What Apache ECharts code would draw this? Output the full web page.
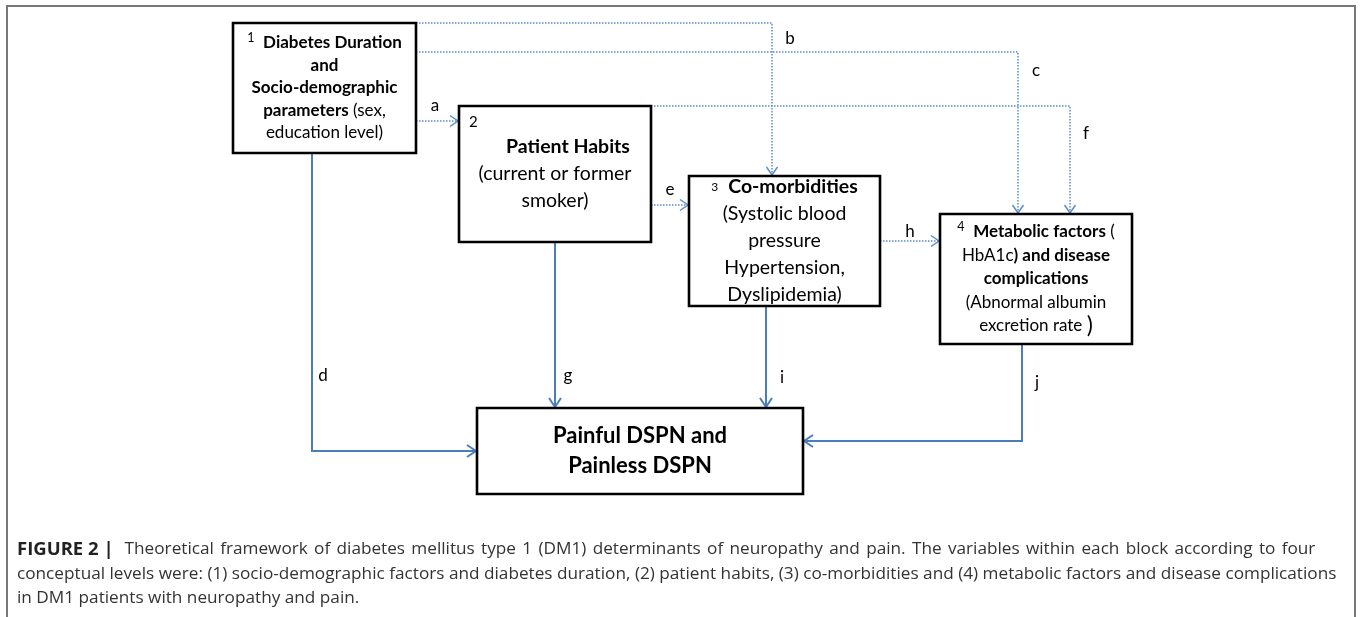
<!DOCTYPE html>
<html>
<head>
<meta charset="utf-8">
<style>
html,body{margin:0;padding:0;background:#fff;}
#chart{width:1360px;height:617px;}
</style>
<script src="https://cdn.jsdelivr.net/npm/echarts@6/dist/echarts.min.js"></script>
</head>
<body>
<div id="chart"></div>
<script>
// ---- diagram content ----
const boxNames = ['Diabetes Duration and Socio-demographic parameters', 'Patient Habits', 'Co-morbidities', 'Metabolic factors and disease complications', 'Painful DSPN and Painless DSPN'];
const boxText = [
  '{s|1}  {b|Diabetes Duration}\n{b|and}\n{b|Socio-demographic}\n{b|parameters} {n|(sex,}\n{n|education level)}',
  '{p|}{b|Patient Habits}\n{n|(current or former}\n{n|smoker)}',
  '{m|3}  {b|Co-morbidities}\n{n|(Systolic blood}\n{n|pressure}\n{n|Hypertension,}\n{n|Dyslipidemia)}',
  '{s|4}  {b|Metabolic factors} {n|(}\n{n|HbA1c}{b|) and disease}\n{b|complications}\n{n|(Abnormal albumin}\n{n|excretion rate} {big|)}',
  '{b|Painful DSPN and}\n{b|Painless DSPN}'
];
const boxCornerNumber = ['', '2', '', '', ''];
// box extents in diagram units [x0, y0, x1, y1]
const boxRects = [
  [233, 23, 416, 153],
  [459, 106, 651, 242],
  [689, 176, 880, 306],
  [940, 214, 1132, 344],
  [477, 408, 803, 494]
];
const boxFont = [17, 19.5, 19.5, 17, 22];
const boxLineHeight = [22.5, 27, 27, 23.5, 30];

// connectors
const linkLetters = ['a', 'b', 'c', 'f', 'e', 'h', 'd', 'g', 'i', 'j'];
const linkKind = ['dotted', 'dotted', 'dotted', 'dotted', 'dotted', 'dotted', 'solid', 'solid', 'solid', 'solid'];
const linkPaths = [
  [[416, 121], [458, 121]],
  [[416, 23], [772, 23], [772, 175]],
  [[416, 52], [1018, 52], [1018, 213]],
  [[651, 106], [1070, 106], [1070, 213]],
  [[651, 205], [688, 205]],
  [[880, 241], [939, 241]],
  [[312, 153], [312, 451], [476, 451]],
  [[555, 242], [555, 407]],
  [[766, 306], [766, 407]],
  [[1022, 344], [1022, 441], [804, 441]]
];
const linkLabelPos = [
  [435, 106], [790, 39], [1036, 71], [1086, 134], [670, 190],
  [910, 232], [323, 376], [568, 376], [782, 378], [1037, 383]
];

const captionLead = 'FIGURE 2 |';
const captionLines = [
  'Theoretical framework of diabetes mellitus type 1 (DM1) determinants of neuropathy and pain. The variables within each block according to four',
  'conceptual levels were: (1) socio-demographic factors and diabetes duration, (2) patient habits, (3) co-morbidities and (4) metabolic factors and disease complications',
  'in DM1 patients with neuropathy and pain.'
];

const BOX_FONT = 'Lato';
const CAP_FONT = 'Open Sans';
const CAP_SIZE = 17.2;
const SOLID = '#4a7ebb';
const DOTTED = '#5b8ccb';

const chart = echarts.init(document.getElementById('chart'), null, {renderer: 'canvas'});

function renderBox(params, api) {
  const i = params.dataIndex;
  const r = boxRects[i];
  const p0 = api.coord([r[0], r[1]]);
  const p1 = api.coord([r[2], r[3]]);
  const fs = boxFont[i];
  const lh = boxLineHeight[i];
  const children = [{
    type: 'rect',
    shape: {x: p0[0], y: p0[1], width: p1[0] - p0[0], height: p1[1] - p0[1]},
    style: {fill: '#fff', stroke: '#000', lineWidth: 2.6}
  }, {
    type: 'text',
    x: (p0[0] + p1[0]) / 2,
    y: (p0[1] + p1[1]) / 2,
    style: {
      text: boxText[i],
      align: 'center',
      verticalAlign: 'middle',
      fill: '#000',
      fontFamily: BOX_FONT,
      fontSize: fs,
      lineHeight: lh,
      rich: {
        b: {fontFamily: BOX_FONT, fontWeight: 'bold', fontSize: fs, lineHeight: lh, fill: '#000'},
        n: {fontFamily: BOX_FONT, fontWeight: 'normal', fontSize: fs, lineHeight: lh, fill: '#000'},
        big: {fontFamily: BOX_FONT, fontWeight: 'normal', fontSize: fs + 6, lineHeight: lh, fill: '#000'},
        s: {fontFamily: BOX_FONT, fontSize: 12.5, verticalAlign: 'top', lineHeight: lh, fill: '#000'},
        m: {fontFamily: BOX_FONT, fontSize: 12, verticalAlign: 'middle', lineHeight: lh, fill: '#000'},
        p: {width: 26}
      }
    }
  }];
  if (boxCornerNumber[i]) {
    children.push({
      type: 'text',
      x: p0[0] + 10,
      y: p0[1] + 16,
      style: {text: boxCornerNumber[i], fontFamily: BOX_FONT, fontSize: 15, fill: '#000', align: 'left', verticalAlign: 'middle'}
    });
  }
  return {type: 'group', children: children};
}

function renderLink(params, api) {
  const i = params.dataIndex;
  const pts = linkPaths[i].map(p => api.coord(p));
  const solid = linkKind[i] === 'solid';
  const color = solid ? SOLID : DOTTED;
  const n = pts.length;
  const end = pts[n - 1], prev = pts[n - 2];
  const dx = end[0] - prev[0], dy = end[1] - prev[1];
  const len = Math.sqrt(dx * dx + dy * dy) || 1;
  const ux = dx / len, uy = dy / len;
  const L = solid ? 9 : 8, W = solid ? 6 : 5.5;
  const a1 = [end[0] - ux * L - uy * W, end[1] - uy * L + ux * W];
  const a2 = [end[0] - ux * L + uy * W, end[1] - uy * L - ux * W];
  const lp = api.coord(linkLabelPos[i]);
  return {
    type: 'group',
    children: [{
      type: 'polyline',
      shape: {points: pts},
      style: {fill: null, stroke: color, lineWidth: solid ? 2 : 1.5, lineDash: solid ? null : [1.5, 1.5]}
    }, {
      type: 'polyline',
      shape: {points: [a1, end, a2]},
      style: {fill: null, stroke: color, lineWidth: solid ? 2 : 1.5}
    }, {
      type: 'text',
      x: lp[0], y: lp[1],
      style: {text: linkLetters[i], fontFamily: BOX_FONT, fontSize: 17, fill: '#000', align: 'center', verticalAlign: 'middle'}
    }]
  };
}

// first caption line is justified in the source: widen its word gaps slightly
const captionText =
  '{b|' + captionLead + '}{g| }' + captionLines[0].split(' ').join('{sp| }') + '\n' +
  captionLines.slice(1).join('\n');

const option = {
  animation: false,
  backgroundColor: '#fff',
  grid: {left: 0, right: 0, top: 0, bottom: 0},
  xAxis: {type: 'value', min: 0, max: 1360, show: false},
  yAxis: {type: 'value', min: 0, max: 617, inverse: true, show: false},
  title: {
    left: 17,
    top: 537,
    padding: 0,
    text: captionText,
    textStyle: {
      fontFamily: CAP_FONT,
      fontSize: CAP_SIZE,
      fontWeight: 'normal',
      color: '#333',
      lineHeight: 24.5,
      rich: {
        b: {fontFamily: CAP_FONT, fontSize: 18.5, fontWeight: 'bold', color: '#222', lineHeight: 24.5},
        g: {fontFamily: CAP_FONT, fontSize: CAP_SIZE, width: 11, lineHeight: 24.5},
        sp: {fontFamily: CAP_FONT, fontSize: CAP_SIZE, width: 6.3, lineHeight: 24.5}
      }
    }
  },
  graphic: [{
    type: 'rect',
    shape: {x: 7, y: 6, width: 1348, height: 700},
    style: {fill: null, stroke: '#777', lineWidth: 2},
    silent: true,
    z: -1
  }],
  series: [{
    type: 'custom',
    name: 'links',
    renderItem: renderLink,
    data: linkLetters.map((l, i) => [i]),
    clip: false,
    z: 1
  }, {
    type: 'custom',
    name: 'boxes',
    renderItem: renderBox,
    data: boxNames.map((b, i) => [i]),
    clip: false,
    z: 2
  }]
};
chart.setOption(option);
</script>
</body>
</html>
